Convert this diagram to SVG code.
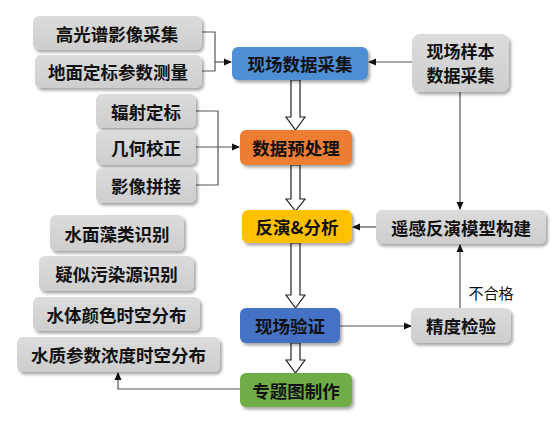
<svg xmlns="http://www.w3.org/2000/svg" width="553" height="424" viewBox="0 0 553 424">
<defs>
<linearGradient id="gg" x1="0" y1="0" x2="0" y2="1">
<stop offset="0" stop-color="#DCDCDC"/><stop offset="1" stop-color="#CDCDCD"/>
</linearGradient>
<filter id="sh" x="-10%" y="-20%" width="130%" height="150%">
<feDropShadow dx="2" dy="2.5" stdDeviation="1.5" flood-color="#000" flood-opacity="0.35"/>
</filter>
<marker id="ah" markerWidth="8" markerHeight="8" refX="7" refY="4" orient="auto" markerUnits="userSpaceOnUse">
<path d="M0,0.5 L8,4 L0,7.5 Z" fill="#111"/>
</marker>
</defs>
<style>
.g{fill:url(#gg);filter:url(#sh)}
.b{filter:url(#sh)}
text{font-family:"Noto Sans CJK SC","Noto Sans",sans-serif;font-size:17.5px;font-weight:bold;fill:#111;text-anchor:middle;dominant-baseline:central}
.c{fill:none;stroke:#555;stroke-width:1.2}
.h{fill:#fff;stroke:#222;stroke-width:1.2}
.l{font-size:15px;font-weight:normal}
.s{font-size:17px}
</style>
<rect width="553" height="424" fill="#fff"/>
<g id="connectors">
<path class="c" d="M202,32 H215 V71 H202"/>
<path class="c" d="M215,62 H231" marker-end="url(#ah)"/>
<path class="c" d="M412,62 H369" marker-end="url(#ah)"/>
<path class="c" d="M196,111 H218 V185 H196"/>
<path class="c" d="M196,147 H239" marker-end="url(#ah)"/>
<path class="c" d="M460,92 V209" marker-end="url(#ah)"/>
<path class="c" d="M376,227 H353" marker-end="url(#ah)"/>
<path class="c" d="M340,326 H411" marker-end="url(#ah)"/>
<path class="c" d="M460,308 V245" marker-end="url(#ah)"/>
<path class="c" d="M240,389 H118 V373" marker-end="url(#ah)"/>
<path class="h" d="M291,80 H300 V117 H305 L295.5,130 L286,117 H291 Z"/>
<path class="h" d="M291,165 H300 V199 H305 L295.5,211 L286,199 H291 Z"/>
<path class="h" d="M291,243 H300 V295 H305 L295.5,308 L286,295 H291 Z"/>
<path class="h" d="M291,343 H300 V360 H305 L295.5,373 L286,360 H291 Z"/>
<text class="l" x="491" y="292">不合格</text>
</g>
<g id="n1"><rect class="g" x="33" y="16" width="169" height="34" rx="6"/><text x="117" y="33">高光谱影像采集</text></g>
<g id="n2"><rect class="g" x="35" y="55" width="167" height="33" rx="6"/><text x="118" y="71.5">地面定标参数测量</text></g>
<g id="n3"><rect class="b" x="232" y="47" width="136" height="33" rx="6" fill="#4F8FD6"/><text x="300" y="63.5">现场数据采集</text></g>
<g id="n4"><rect class="g" x="412" y="34" width="97" height="58" rx="8"/><text class="s" x="460.5" y="50.5">现场样本</text><text class="s" x="460.5" y="74.5">数据采集</text></g>
<g id="n5"><rect class="g" x="96" y="94" width="100" height="34" rx="6"/><text x="146" y="111">辐射定标</text></g>
<g id="n6"><rect class="g" x="96" y="130" width="100" height="35" rx="6"/><text x="146" y="147.5">几何校正</text></g>
<g id="n7"><rect class="g" x="96" y="168" width="100" height="35" rx="6"/><text x="146" y="185.5">影像拼接</text></g>
<g id="n8"><rect class="b" x="240" y="130" width="112" height="35" rx="6" fill="#ED7D31"/><text x="296" y="147.5">数据预处理</text></g>
<g id="n9"><rect class="b" x="242" y="210" width="110" height="33" rx="6" fill="#FFC000"/><text x="297" y="226.5">反演&amp;分析</text></g>
<g id="n10"><rect class="g" x="376" y="210" width="170" height="34" rx="6"/><text x="461" y="227">遥感反演模型构建</text></g>
<g id="n11"><rect class="g" x="50" y="215" width="134" height="36" rx="6"/><text x="117" y="233">水面藻类识别</text></g>
<g id="n12"><rect class="g" x="39" y="256" width="155" height="35" rx="6"/><text x="116.5" y="273.5">疑似污染源识别</text></g>
<g id="n13"><rect class="g" x="33" y="297" width="167" height="34" rx="6"/><text x="116.5" y="314">水体颜色时空分布</text></g>
<g id="n14"><rect class="g" x="17" y="337" width="203" height="35" rx="6"/><text x="118.5" y="354.5">水质参数浓度时空分布</text></g>
<g id="n15"><rect class="b" x="240" y="308" width="100" height="35" rx="6" fill="#4472C4"/><text x="290" y="325.5">现场验证</text></g>
<g id="n16"><rect class="g" x="411" y="308" width="100" height="35" rx="6"/><text x="461" y="325.5">精度检验</text></g>
<g id="n17"><rect class="b" x="240" y="373" width="112" height="34" rx="6" fill="#70AD47"/><text x="296" y="390">专题图制作</text></g>
</svg>
